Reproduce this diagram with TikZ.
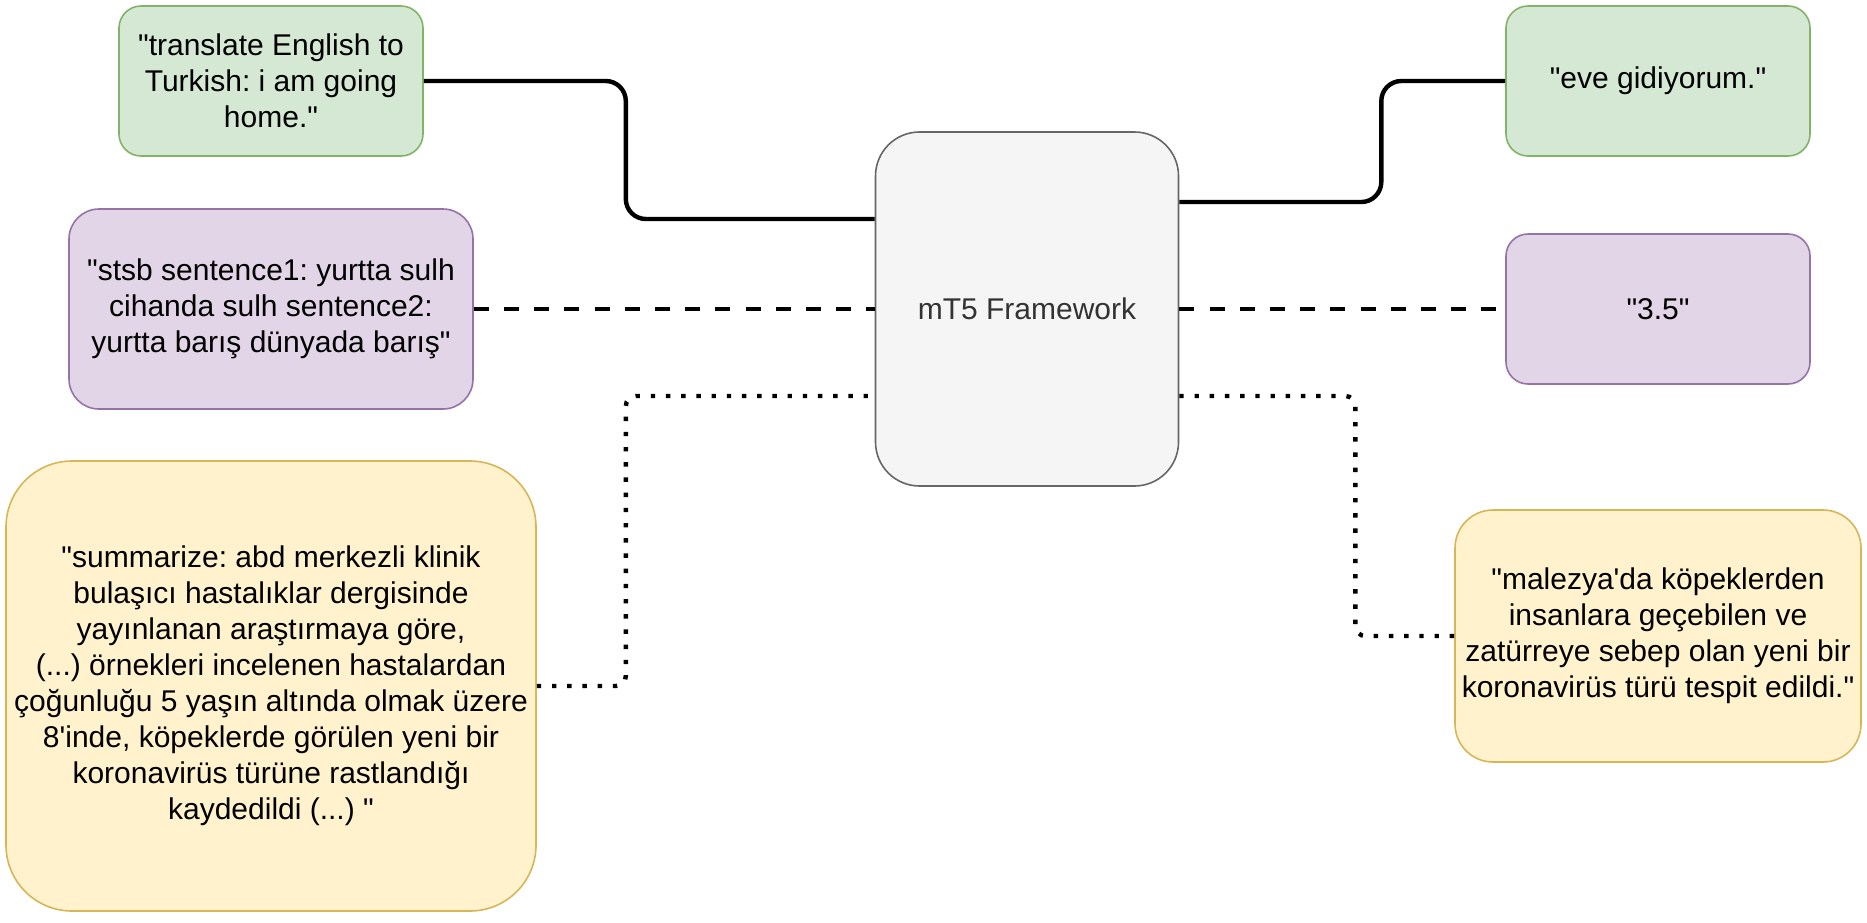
\documentclass[tikz,border=0pt]{standalone}
\usepackage{fontspec}
\newfontfamily\boxfont{Liberation Sans}
\usetikzlibrary{positioning}
\definecolor{TaskGreen}{HTML}{D5E8D4}
\definecolor{TaskGreenLine}{HTML}{82B366}
\definecolor{TaskPurple}{HTML}{E1D5E7}
\definecolor{TaskPurpleLine}{HTML}{9673A6}
\definecolor{TaskYellow}{HTML}{FFF2CC}
\definecolor{TaskYellowLine}{HTML}{D6B656}
\definecolor{ModelGrey}{HTML}{F5F5F5}
\definecolor{ModelGreyLine}{HTML}{666666}
\definecolor{ModelText}{HTML}{333333}
\frenchspacing

\begin{document}
\begin{tikzpicture}[
    x=0.5pt, y=-0.5pt,
    every node/.style={font=\boxfont\fontsize{15}{18}\selectfont},
    textbox/.style={draw, rounded corners=#1, align=center, inner sep=0pt, line width=0.8pt},
    textbox/.default=11pt,
    greenbox/.style={textbox, fill=TaskGreen, draw=TaskGreenLine},
    purplebox/.style={textbox=#1, fill=TaskPurple, draw=TaskPurpleLine},
    purplebox/.default=11pt,
    yellowbox/.style={textbox=#1, fill=TaskYellow, draw=TaskYellowLine},
    link/.style={line width=2.2pt, rounded corners=10pt},
    dashlink/.style={link, dash pattern=on 7.5pt off 7.6pt},
    dotlink/.style={link, rounded corners=5pt, dash pattern=on 2.2pt off 5.4pt}
]
\useasboundingbox (0,0) rectangle (1867,922);

% inputs
\node[greenbox, minimum width=152pt, minimum height=75pt] (tin) at (271,81)
    {"translate English to\\Turkish: i am going\\home."};
\node[purplebox=15pt, minimum width=202pt, minimum height=100pt] (sin) at (271,309)
    {"stsb sentence1: yurtta sulh\\cihanda sulh sentence2:\\yurtta barış dünyada barış"};
\node[yellowbox=33pt, minimum width=265pt, minimum height=225pt] (min) at (271,686)
    {"summarize: abd merkezli klinik\\bulaşıcı hastalıklar dergisinde\\yayınlanan araştırmaya göre,\\(...) örnekleri incelenen hastalardan\\çoğunluğu 5 yaşın altında olmak üzere\\8'inde, köpeklerde görülen yeni bir\\koronavirüs türüne rastlandığı\\kaydedildi (...) "};

% model
\node[textbox=22pt, fill=ModelGrey, draw=ModelGreyLine, text=ModelText,
    minimum width=151.5pt, minimum height=177pt] (mt) at (1027,309) {mT5 Framework};

% outputs
\node[greenbox, minimum width=152pt, minimum height=75pt] (tout) at (1658,81)
    {"eve gidiyorum."};
\node[purplebox, minimum width=152pt, minimum height=75pt] (sout) at (1658,309)
    {"3.5"};
\node[yellowbox=19pt, minimum width=203pt, minimum height=126pt] (mout) at (1658,636)
    {"malezya'da köpeklerden\\insanlara geçebilen ve\\zatürreye sebep olan yeni bir\\koronavirüs türü tespit edildi."};

\draw[link] (tin.east) -- ++(202,0) |- ([yshift=45pt]mt.west);
\draw[link] ([yshift=53.5pt]mt.east) -- ++(202,0) |- (tout.west);
\draw[dashlink] (sin.east) -- (mt.west);
\draw[dashlink] (mt.east) -- (sout.west);
\draw[dotlink] (min.east) -- ++(89,0) |- ([yshift=-43.5pt]mt.west);
\draw[dotlink] ([yshift=-43.5pt]mt.east) -- ++(176,0) |- (mout.west);
\end{tikzpicture}
\end{document}
